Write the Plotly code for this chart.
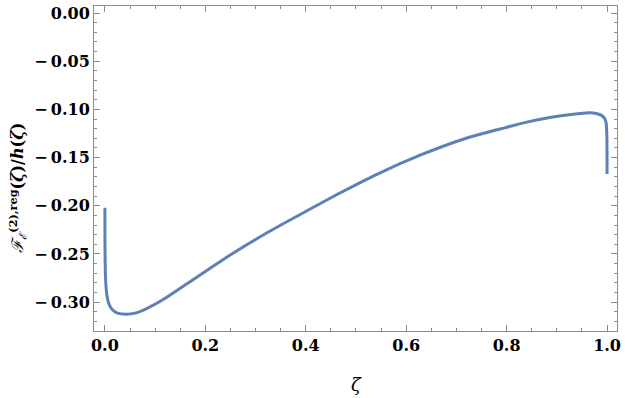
import plotly.graph_objects as go

# zeta values and F/h values
zeta = [0.0, 0.0001, 0.0005, 0.0015, 0.004, 0.008, 0.015, 0.025, 0.043, 0.06, 0.083,
        0.1153, 0.1746, 0.2536, 0.3195, 0.3854, 0.471, 0.55, 0.629, 0.7148, 0.787,
        0.84, 0.886, 0.92, 0.952, 0.965, 0.978, 0.988, 0.9947, 0.998, 0.9994, 0.9999, 1.0]
fval = [-0.202, -0.232, -0.258, -0.278, -0.293, -0.302, -0.308, -0.3115, -0.3126, -0.3115, -0.3067,
        -0.2976, -0.2770, -0.2498, -0.2291, -0.2101, -0.186, -0.1653, -0.1473, -0.1307, -0.1204,
        -0.1132, -0.1084, -0.1058, -0.1040, -0.1036, -0.1042, -0.1060, -0.1090, -0.1135, -0.124, -0.142, -0.167]

x_ticks = [0.0, 0.2, 0.4, 0.6, 0.8, 1.0]
x_tick_labels = ["0.0", "0.2", "0.4", "0.6", "0.8", "1.0"]
y_ticks = [0.0, -0.05, -0.10, -0.15, -0.20, -0.25, -0.30]
y_tick_labels = ["0.00", "\u2212\u20090.05", "\u2212\u20090.10", "\u2212\u20090.15",
                 "\u2212\u20090.20", "\u2212\u20090.25", "\u2212\u20090.30"]

fig = go.Figure()
fig.add_trace(go.Scatter(x=zeta, y=fval, mode="lines",
                         line=dict(color="#5E81B5", width=3, shape="spline", smoothing=0.8),
                         showlegend=False))

tickcol = "#8c8c8c"
tickfont = dict(family="DejaVu Serif", size=16, color="black", weight="bold")
axis_common = dict(showgrid=False, zeroline=False, showline=True, linecolor=tickcol,
                   linewidth=1, mirror="allticks", ticks="inside", ticklen=6,
                   tickcolor=tickcol, tickwidth=1, tickfont=tickfont)

fig.update_xaxes(range=[-0.0217, 1.0198], tickvals=x_ticks, ticktext=x_tick_labels,
                 minor=dict(dtick=0.05, tick0=0, ticks="inside", ticklen=3,
                            tickcolor=tickcol, tickwidth=1),
                 **axis_common)
fig.update_yaxes(range=[-0.330, 0.0073], tickvals=y_ticks, ticktext=y_tick_labels,
                 minor=dict(dtick=0.01, tick0=0, ticks="inside", ticklen=3,
                            tickcolor=tickcol, tickwidth=1),
                 **axis_common)

fig.update_layout(
    width=625, height=398,
    margin=dict(l=94, r=4, t=5, b=67),
    paper_bgcolor="white", plot_bgcolor="white",
    annotations=[
        dict(text="<i>\u03b6</i>", xref="paper", yref="paper", x=0.501, y=-0.166,
             xanchor="center", yanchor="middle",
             showarrow=False, font=dict(family="DejaVu Serif", size=18, color="black")),
        dict(text="<i>\u2131</i><sub><i>\u2130</i></sub><sup><b>(2),reg</b></sup><b>(<i>\u03b6</i>)/<i>h</i>(<i>\u03b6</i>)</b>",
             xref="paper", yref="paper", x=-0.146, y=0.44, textangle=-90,
             xanchor="center", yanchor="middle",
             showarrow=False, font=dict(family="DejaVu Serif", size=16, color="black")),
    ],
)

fig.write_html("out.html")
